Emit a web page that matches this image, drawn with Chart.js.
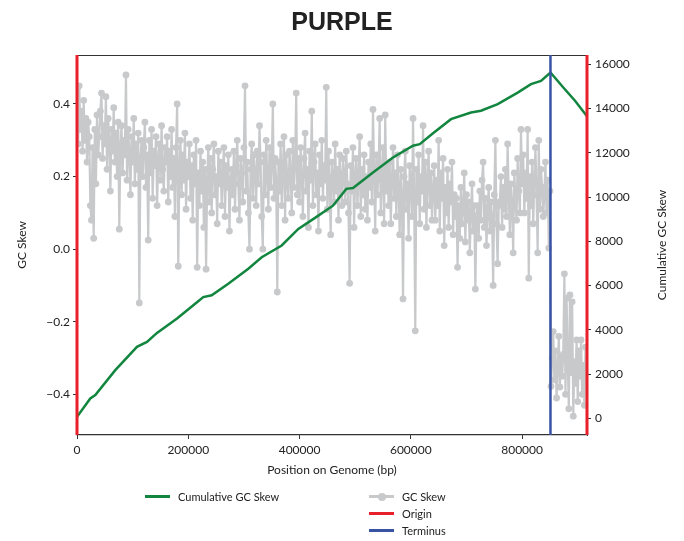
<!DOCTYPE html>
<html>
<head>
<meta charset="utf-8">
<script src="https://cdn.jsdelivr.net/npm/chart.js@4"></script>
<style>
  body { margin: 0; background: #fff; }
  #wrap { position: relative; width: 684px; height: 541px; }
  .leg { position: absolute; font: 11px Lato, "DejaVu Sans", sans-serif; color: #222; display: flex; align-items: center; }
  .leg i { display: inline-block; width: 25px; height: 3px; margin-right: 8px; position: relative; }
  .leg i.dot::after { content: ""; position: absolute; left: 9px; top: -2.5px; width: 8px; height: 8px; border-radius: 50%; background: #c8c9cb; }
</style>
</head>
<body>
<div id="wrap">
  <canvas id="chart" width="684" height="541"></canvas>
  <div class="leg" style="left:145px;top:490px"><i style="background:#12863f"></i>Cumulative GC Skew</div>
  <div class="leg" style="left:369px;top:490px"><i class="dot" style="background:#c8c9cb"></i>GC Skew</div>
  <div class="leg" style="left:369px;top:507px"><i style="background:#e8202a"></i>Origin</div>
  <div class="leg" style="left:369px;top:524px"><i style="background:#3953a4"></i>Terminus</div>
</div>
<script>
const genomeLength = 916667;
const windowSize = 2000;
const originPositions = [0, 916667];
const terminusPositions = [851000];

// GC skew per 2 kb window
const skewValues = [
  0.44, 0.29, 0.45, 0.33, 0.38, 0.27, 0.41, 0.30, 0.36, 0.24, 0.35, 0.31, 0.12, 0.08, 0.28, 0.03, 0.33, 0.18, 0.37, 0.26,
  0.31, 0.38, 0.43, 0.25, 0.34, 0.29, 0.42, 0.22, 0.36, 0.30, 0.16, 0.33, 0.27, 0.39, 0.24, 0.32, 0.20, 0.35, 0.055, 0.28,
  0.34, 0.21, 0.30, 0.26, 0.48, 0.19, 0.33, 0.27, 0.15, 0.31, 0.24, 0.36, 0.18, 0.29, 0.22, 0.32, -0.148, 0.25, 0.30, 0.20,
  0.28, 0.35, 0.17, 0.26, 0.025, 0.30, 0.21, 0.33, 0.14, 0.27, 0.23, 0.31, 0.12, 0.25, 0.29, 0.19, 0.34, 0.22, 0.16, 0.28,
  0.24, 0.31, 0.13, 0.27, 0.20, 0.33, 0.17, 0.25, 0.09, 0.28, 0.40, -0.047, 0.22, 0.30, 0.15, 0.26, 0.19, 0.32, 0.11, 0.24,
  0.20, 0.29, 0.14, 0.23, 0.08, 0.26, 0.18, 0.30, -0.05, 0.21, 0.12, 0.27, 0.16, 0.24, 0.06, 0.22, -0.055, 0.19, 0.28, 0.13,
  0.25, 0.10, 0.22, 0.29, 0.15, 0.20, 0.07, 0.27, 0.18, 0.24, 0.12, 0.21, 0.28, 0.09, 0.23, 0.17, 0.26, 0.05, 0.19, 0.22,
  0.15, 0.27, 0.11, 0.23, 0.30, 0.18, 0.08, 0.25, 0.21, 0.13, 0.28, 0.45, 0.16, 0.24, 0.10, 0.0, 0.22, 0.29, 0.14, 0.26,
  0.21, 0.12, 0.27, 0.18, 0.34, 0.24, 0.09, 0.0, 0.26, 0.15, 0.30, 0.20, 0.11, 0.28, 0.17, 0.23, 0.40, 0.14, 0.25, 0.19,
  -0.118, 0.24, 0.16, 0.29, 0.12, 0.22, 0.31, 0.08, 0.26, 0.19, 0.14, 0.27, 0.21, 0.10, 0.30, 0.17, 0.23, 0.43, 0.15, 0.25,
  0.13, 0.28, 0.20, 0.09, 0.25, 0.32, 0.16, 0.22, 0.06, 0.27, 0.19, 0.38, 0.12, 0.24, 0.29, 0.15, 0.21, 0.05, 0.26, 0.18,
  0.30, 0.14, 0.23, 0.19, 0.446, 0.11, 0.27, 0.17, 0.04, 0.24, 0.20, 0.13, 0.29, 0.16, 0.22, 0.08, 0.26, 0.18, 0.12, 0.25,
  0.21, 0.13, 0.27, 0.18, 0.10, -0.094, 0.23, 0.16, 0.28, 0.06, 0.20, 0.25, 0.12, 0.19, 0.31, 0.09, 0.22, 0.15, 0.26, 0.11,
  0.20, 0.08, 0.24, 0.17, 0.29, 0.13, 0.385, 0.21, 0.05, 0.26, 0.15, 0.22, 0.36, 0.10, 0.19, 0.28, 0.07, 0.37, 0.16, 0.23,
  0.12, 0.24, 0.07, 0.19, 0.28, 0.14, 0.21, 0.09, 0.26, 0.17, 0.04, 0.22, 0.15, -0.137, 0.20, 0.27, 0.11, 0.18, 0.03, 0.23,
  0.18, 0.09, 0.36, 0.14, -0.225, 0.22, 0.13, 0.26, 0.07, 0.20, 0.16, 0.34, 0.11, 0.24, 0.06, 0.19, 0.27, 0.12, 0.21, 0.08,
  0.16, 0.23, 0.08, 0.19, 0.12, 0.30, 0.05, 0.21, 0.14, 0.25, 0.01, 0.17, 0.10, 0.22, 0.06, 0.18, 0.13, 0.24, 0.04, 0.15,
  0.09, 0.14, -0.05, 0.12, 0.03, 0.17, 0.07, 0.11, 0.21, 0.02, 0.15, 0.08, 0.13, -0.01, 0.10, 0.18, 0.05, 0.12, -0.11, 0.09,
  0.12, 0.03, 0.16, 0.08, 0.19, 0.24, 0.06, 0.14, 0.01, 0.11, 0.17, 0.05, 0.13, 0.09, -0.10, 0.15, 0.30, 0.07, -0.04, 0.12,
  0.13, 0.20, 0.06, 0.17, 0.11, 0.22, 0.09, 0.29, 0.15, 0.04, 0.18, 0.12, -0.01, 0.21, 0.14, 0.08, 0.25, 0.16, 0.10, 0.33,
  0.18, 0.26, 0.10, 0.21, 0.14, 0.33, -0.08, 0.20, 0.12, 0.24, 0.07, 0.19, 0.28, 0.15, -0.01, 0.30, 0.11, 0.22, 0.17, 0.09,
  0.15, 0.24, 0.10, 0.19, 0.003, 0.16,
  -0.378, -0.30, -0.227, -0.36, -0.28, -0.41, -0.33, -0.24, -0.38, -0.30,
  -0.35, -0.29, -0.068, -0.40, -0.135, -0.31, -0.44, -0.126, -0.34, -0.145,
  -0.46, -0.31, -0.37, -0.25, -0.42, -0.28, -0.35, -0.25, -0.40, -0.32, -0.43, -0.27, -0.36
];

// cumulative skew (right axis)
const cumPositions = [0, 23900, 32900, 68800, 107800, 125800, 143800, 179800, 215700, 227000,
  242100, 271900, 307900, 332000, 367900, 397800, 427800, 460100, 484000, 496100,
  532000, 568000, 603900, 616000, 639900, 672200, 708200, 726100, 756200, 792100,
  816000, 834000, 851000, 874100, 895100, 916667];
const cumValues = [70, 900, 1050, 2180, 3230, 3450, 3860, 4510, 5250, 5480,
  5560, 6080, 6760, 7280, 7810, 8560, 9060, 9610, 10370, 10410,
  11110, 11790, 12320, 12390, 12880, 13520, 13820, 13900, 14200, 14720,
  15100, 15250, 15630, 14950, 14350, 13650];

const xTicks = [0, 200000, 400000, 600000, 800000];
const yTicks = [-0.4, -0.2, 0.0, 0.2, 0.4];
const y1Ticks = [0, 2000, 4000, 6000, 8000, 10000, 12000, 14000, 16000];
const yRange = [-0.512, 0.535];
const y1Range = [-753, 16419];

const font = { family: "Lato, 'DejaVu Sans', sans-serif", size: 12 };
const ink = "#222";

const skewData = skewValues.map((v, i) => ({ x: i * windowSize, y: v }));
const cumData = cumPositions.map((p, i) => ({ x: p, y: cumValues[i] }));

function vline(p, color, width) {
  return {
    data: [{ x: p, y: yRange[0] }, { x: p, y: yRange[1] }],
    yAxisID: "y", borderColor: color, borderWidth: width,
    pointRadius: 0, clip: false
  };
}

const frame = {
  id: "frame",
  beforeDatasetsDraw(chart) {
    const a = chart.chartArea, ctx = chart.ctx;
    ctx.save();
    ctx.strokeStyle = "#333";
    ctx.lineWidth = 1;
    ctx.beginPath();
    ctx.moveTo(a.left, a.top + 0.5);
    ctx.lineTo(a.right, a.top + 0.5);
    ctx.stroke();
    ctx.restore();
  },
  afterDraw(chart) {
    const s = chart.scales.y1, ctx = chart.ctx;
    ctx.save();
    ctx.fillStyle = ink;
    ctx.font = "12px " + font.family;
    ctx.textAlign = "center";
    ctx.textBaseline = "middle";
    ctx.translate(s.right - 22, (s.top + s.bottom) / 2);
    ctx.rotate(-Math.PI / 2);
    ctx.fillText("Cumulative GC Skew", 0, 0);
    ctx.restore();
  }
};

new Chart(document.getElementById("chart"), {
  type: "line",
  data: {
    datasets: [
      ...originPositions.map(p => vline(p, "#e8202a", 3)),
      ...terminusPositions.map(p => vline(p, "#3953a4", 2.5)),
      {
        label: "Cumulative GC Skew", data: cumData, yAxisID: "y1",
        borderColor: "#12863f", borderWidth: 2.5, pointRadius: 0
      },
      {
        label: "GC Skew", data: skewData, yAxisID: "y",
        borderColor: "#c8c9cb", borderWidth: 2.2,
        pointRadius: 3.4, pointBackgroundColor: "#c8c9cb", pointBorderWidth: 0
      }
    ]
  },
  options: {
    responsive: false,
    animation: false,
    devicePixelRatio: 1,
    layout: { padding: { left: 0, right: 0, top: 0, bottom: 56 } },
    plugins: {
      legend: { display: false },
      tooltip: { enabled: false },
      title: {
        display: true, text: "PURPLE", color: "#222",
        font: { family: "'Liberation Sans', Arial, sans-serif", size: 25, weight: "bold" },
        padding: { top: 8, bottom: 17 }
      }
    },
    scales: {
      x: {
        type: "linear", min: 0, max: genomeLength,
        afterBuildTicks: s => { s.ticks = xTicks.map(v => ({ value: v })); },
        afterFit: s => { s.height = 50; },
        ticks: { color: ink, font, maxRotation: 0, autoSkip: false, padding: 4, callback: v => String(v) },
        grid: { drawOnChartArea: false, tickLength: 4, color: "#333" },
        border: { color: "#333", width: 1.2 },
        title: { display: true, text: "Position on Genome (bp)", color: ink, font, padding: { top: 2, bottom: 8 } }
      },
      y: {
        position: "left", min: yRange[0], max: yRange[1],
        afterBuildTicks: s => { s.ticks = yTicks.map(v => ({ value: v })); },
        afterFit: s => { s.width = 77; },
        ticks: { color: ink, font, padding: 3, callback: v => (v < -1e-9 ? "\u2212" : "") + Math.abs(v).toFixed(1) },
        grid: { drawOnChartArea: false, tickLength: 4, color: "#333" },
        border: { color: "#333" },
        title: { display: true, text: "GC Skew", color: ink, font, padding: { top: 15, bottom: 0 } }
      },
      y1: {
        position: "right", min: y1Range[0], max: y1Range[1],
        afterBuildTicks: s => { s.ticks = y1Ticks.map(v => ({ value: v })); },
        afterFit: s => { s.width = 97; },
        ticks: { color: ink, font, padding: 4, callback: v => String(v) },
        grid: { drawOnChartArea: false, tickLength: 4, color: "#333" },
        border: { color: "#333" }
      }
    }
  },
  plugins: [frame]
});
</script>
</body>
</html>
